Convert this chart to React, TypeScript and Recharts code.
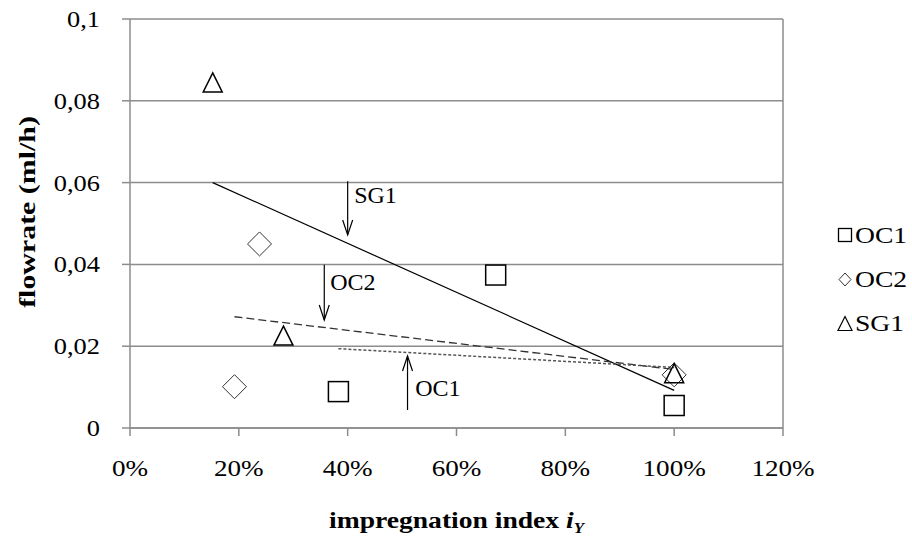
import React from 'react';
import { ScatterChart, Scatter, XAxis, YAxis, CartesianGrid, ReferenceLine, Label } from 'recharts';

const FONT = '"Liberation Serif", "Times New Roman", serif';
const GRID = '#8c8c8c';

const xTicks = [0, 20, 40, 60, 80, 100, 120];
const yTicks = [0, 0.02, 0.04, 0.06, 0.08, 0.1];

// measured points (x in %, y in ml/h)
const oc1 = [
  { x: 38.3, y: 0.0089 },
  { x: 67.2, y: 0.0374 },
  { x: 100, y: 0.0055 },
];
const oc2 = [
  { x: 19.2, y: 0.0101 },
  { x: 23.8, y: 0.045 },
  { x: 100, y: 0.013 },
];
const sg1 = [
  { x: 15.2, y: 0.0845 },
  { x: 28.2, y: 0.0226 },
  { x: 100, y: 0.0134 },
];

// linear trend lines
const oc1Trend = [{ x: 38.3, y: 0.0194 }, { x: 100, y: 0.0148 }];
const oc2Trend = [{ x: 19.2, y: 0.0272 }, { x: 100, y: 0.0143 }];
const sg1Trend = [{ x: 15.2, y: 0.06 }, { x: 100, y: 0.0092 }];

// annotation arrows and their labels
const sg1Arrow = [{ x: 40, y: 0.0603 }, { x: 40, y: 0.0472, head: 'down' }];
const oc2Arrow = [{ x: 35.7, y: 0.0399 }, { x: 35.7, y: 0.0264, head: 'down' }];
const oc1Arrow = [{ x: 51, y: 0.0044 }, { x: 51, y: 0.0176, head: 'up' }];
const notes = [
  { x: 41.2, y: 0.057, text: 'SG1' },
  { x: 36.8, y: 0.0358, text: 'OC2' },
  { x: 52.4, y: 0.0097, text: 'OC1' },
];

const legendItems = [
  { name: 'OC1', marker: 'square' },
  { name: 'OC2', marker: 'diamond' },
  { name: 'SG1', marker: 'triangle' },
];

const Square = (p: any) => (
  <rect x={p.cx - 10} y={p.cy - 10} width={20} height={20} fill="none" stroke="#000" strokeWidth={1.5} />
);
const Diamond = (p: any) => (
  <polygon
    points={`${p.cx},${p.cy - 12} ${p.cx + 12},${p.cy} ${p.cx},${p.cy + 12} ${p.cx - 12},${p.cy}`}
    fill="none"
    stroke="#333"
    strokeWidth={1}
  />
);
const Triangle = (p: any) => (
  <polygon
    points={`${p.cx},${p.cy - 9.5} ${p.cx + 9.5},${p.cy + 9.5} ${p.cx - 9.5},${p.cy + 9.5}`}
    fill="none"
    stroke="#000"
    strokeWidth={1.5}
  />
);
const NoDot = () => <g />;

const ArrowHead = (p: any) => {
  const h = p.payload.head;
  if (!h) return <g />;
  const d = h === 'down' ? -15 : 15;
  return (
    <polyline
      points={`${p.cx - 5},${p.cy + d} ${p.cx},${p.cy} ${p.cx + 5},${p.cy + d}`}
      fill="none"
      stroke="#000"
      strokeWidth={1.2}
    />
  );
};

const NoteText = (p: any) => (
  <text x={p.cx} y={p.cy} dy={8} fontFamily={FONT} fontSize={24} fill="#000" textAnchor="start">
    {p.payload.text}
  </text>
);

// the source fonts are a bit wider than Times, so stretch text horizontally
const XTick = (p: any) => (
  <g transform={`translate(${p.x},${p.y})`}>
    <text transform="scale(1.13,1)" textAnchor="middle" dy={17} fontFamily={FONT} fontSize={24} fill="#000">
      {`${p.payload.value}%`}
    </text>
  </g>
);

const YTick = (p: any) => (
  <g transform={`translate(${p.x},${p.y})`}>
    <text transform="scale(1.1,1)" textAnchor="end" dy={8} fontFamily={FONT} fontSize={24} fill="#000">
      {String(p.payload.value).replace('.', ',')}
    </text>
  </g>
);

const XTitle = (props: any) => {
  const vb = props.viewBox || { x: 130, width: 653 };
  return (
    <g transform={`translate(${vb.x + vb.width / 2},528)`}>
      <text transform="scale(1.2,1)" textAnchor="middle" fontFamily={FONT} fontWeight="bold" fontSize={23} fill="#000">
        <tspan>impregnation index </tspan>
        <tspan fontStyle="italic">i</tspan>
        <tspan fontStyle="italic" fontSize={14} dy={5}>Y</tspan>
      </text>
    </g>
  );
};

const YTitle = () => (
  <g transform="translate(35,212) rotate(-90)">
    <text transform="scale(1.3,1)" textAnchor="middle" fontFamily={FONT} fontWeight="bold" fontSize={23} fill="#000">
      flowrate (ml/h)
    </text>
  </g>
);

const LegendMarker = ({ type }: { type: string }) => (
  <svg width={17} height={17} style={{ marginRight: 1 }}>
    {type === 'square' && <rect x={1.5} y={1.5} width={13} height={13} fill="none" stroke="#000" strokeWidth={1.3} />}
    {type === 'diamond' && <polygon points="8,2 14,8.5 8,15 2,8.5" fill="none" stroke="#333" strokeWidth={1} />}
    {type === 'triangle' && <polygon points="8,1.5 15,15.5 1,15.5" fill="none" stroke="#000" strokeWidth={1.2} />}
  </svg>
);

const LegendBox = () => (
  <div style={{ position: 'absolute', left: 837, top: 213, fontFamily: FONT, fontSize: 24, color: '#000' }}>
    {legendItems.map((it) => (
      <div key={it.name} style={{ display: 'flex', alignItems: 'center', height: 44 }}>
        <LegendMarker type={it.marker} />
        <span style={{ display: 'inline-block', transform: 'scaleX(1.15)', transformOrigin: 'left center' }}>{it.name}</span>
      </div>
    ))}
  </div>
);

export default function App() {
  return (
    <div style={{ position: 'absolute', left: 0, top: 0, width: 912, height: 538, background: '#fff' }}>
      <ScatterChart width={912} height={538} margin={{ top: 19, right: 129, left: 0, bottom: 0 }}>
        <CartesianGrid vertical={false} stroke={GRID} strokeWidth={1.5} />
        <XAxis
          type="number"
          dataKey="x"
          domain={[0, 120]}
          ticks={xTicks}
          height={110}
          tickSize={8}
          tickMargin={23}
          tick={XTick}
          axisLine={{ stroke: GRID, strokeWidth: 1.5 }}
          tickLine={{ stroke: GRID, strokeWidth: 1.5 }}
          interval={0}
        >
          <Label content={XTitle} />
        </XAxis>
        <YAxis
          type="number"
          dataKey="y"
          domain={[0, 0.1]}
          ticks={yTicks}
          width={130}
          tickSize={8}
          tickMargin={22}
          tick={YTick}
          axisLine={{ stroke: GRID, strokeWidth: 1.5 }}
          tickLine={{ stroke: GRID, strokeWidth: 1.5 }}
          interval={0}
        >
          <Label content={YTitle} />
        </YAxis>
        <ReferenceLine x={120} stroke={GRID} strokeWidth={1.5} />

        <Scatter data={sg1Trend} shape={NoDot} line={{ stroke: '#000', strokeWidth: 1.2 }} stroke="#000" isAnimationActive={false} />
        <Scatter data={oc2Trend} shape={NoDot} line={{ stroke: '#333', strokeWidth: 1.3, strokeDasharray: '8 4' }} stroke="#333" isAnimationActive={false} />
        <Scatter data={oc1Trend} shape={NoDot} line={{ stroke: '#555', strokeWidth: 1.5, strokeDasharray: '3 2' }} stroke="#555" isAnimationActive={false} />

        <Scatter data={sg1Arrow} shape={ArrowHead} line={{ stroke: '#000', strokeWidth: 1.2 }} stroke="#000" isAnimationActive={false} />
        <Scatter data={oc2Arrow} shape={ArrowHead} line={{ stroke: '#000', strokeWidth: 1.2 }} stroke="#000" isAnimationActive={false} />
        <Scatter data={oc1Arrow} shape={ArrowHead} line={{ stroke: '#000', strokeWidth: 1.2 }} stroke="#000" isAnimationActive={false} />
        <Scatter data={notes} shape={NoteText} isAnimationActive={false} />

        <Scatter name="OC1" data={oc1} shape={Square} isAnimationActive={false} />
        <Scatter name="OC2" data={oc2} shape={Diamond} isAnimationActive={false} />
        <Scatter name="SG1" data={sg1} shape={Triangle} isAnimationActive={false} />
      </ScatterChart>
      <LegendBox />
    </div>
  );
}
